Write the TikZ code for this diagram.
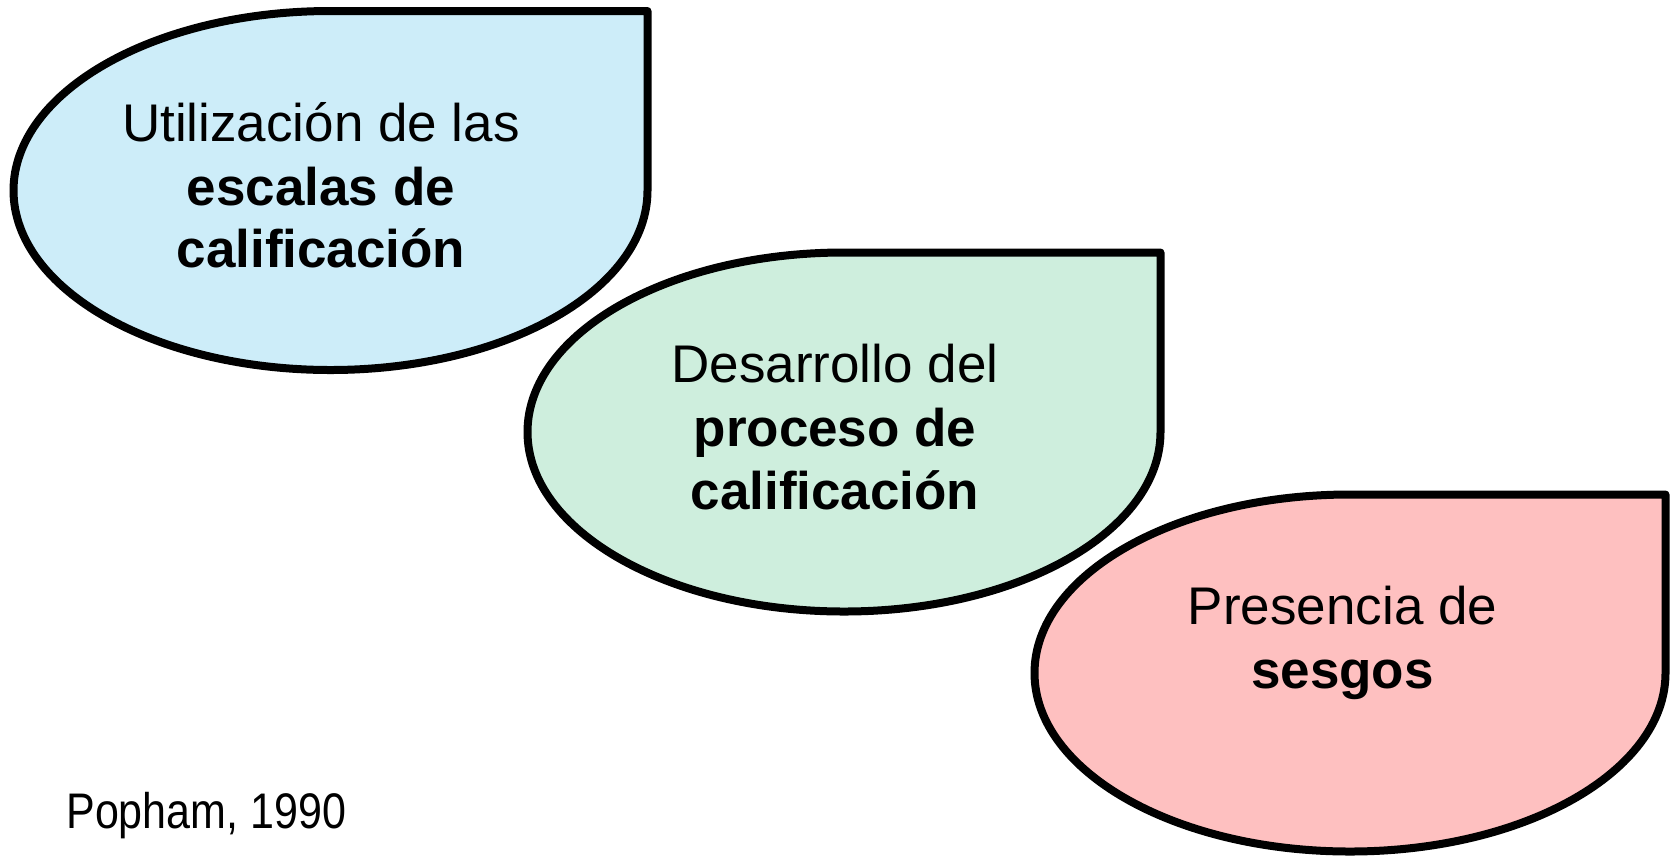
\documentclass[tikz,border=0pt]{standalone}
\usepackage{fontspec}
\usepackage{graphicx}
\setmainfont{Liberation Sans}
\definecolor{fillblue}{RGB}{205,237,249}
\definecolor{fillgreen}{RGB}{206,238,221}
\definecolor{fillpink}{RGB}{254,192,192}
\tikzset{
  drop/.style={draw=black, line width=4pt, line join=round},
  txt/.style={anchor=base, inner sep=0pt, font=\fontsize{26.5}{31}\selectfont},
  btxt/.style={txt, font=\fontsize{26.5}{31}\selectfont\bfseries},
}
\newcommand{\dropshape}[6]{% fill, cx, cy, rx, ry, right
  \path[drop, fill=#1] (#2,#3-#5) -- (#6,#3-#5) -- (#6,#3)
    arc[start angle=0, end angle=270, x radius=#4, y radius=#5] -- cycle;
}
\begin{document}
\begin{tikzpicture}[x=0.5pt, y=-0.5pt]
\useasboundingbox (0,0) rectangle (1674,858);
% shapes: cx, cy, rx, ry, right
\dropshape{fillblue}{330}{190.5}{317}{179.5}{647.5}
\dropshape{fillgreen}{844}{432}{316.5}{179.5}{1160.5}
\dropshape{fillpink}{1350}{673}{315.5}{178.5}{1665.5}
% texts
\node[txt]  (t1a) at (321,141) {Utilización de las};
\node[btxt] (t1b) at (321,205) {escalas de};
\node[btxt] (t1c) at (321,267) {calificación};
\node[txt]  (t2a) at (835,382) {Desarrollo del};
\node[btxt] (t2b) at (835,446) {proceso de};
\node[btxt] (t2c) at (835,509) {calificación};
\node[txt]  (t3a) at (1342.5,624.5) {Presencia de};
\node[btxt] (t3b) at (1342.5,688.6) {sesgos};
\node[anchor=base west, inner sep=0pt, font=\fontsize{25}{30}\selectfont] (src) at (66,828) {\scalebox{0.86}[1]{Popham, 1990}};
\end{tikzpicture}
\end{document}
